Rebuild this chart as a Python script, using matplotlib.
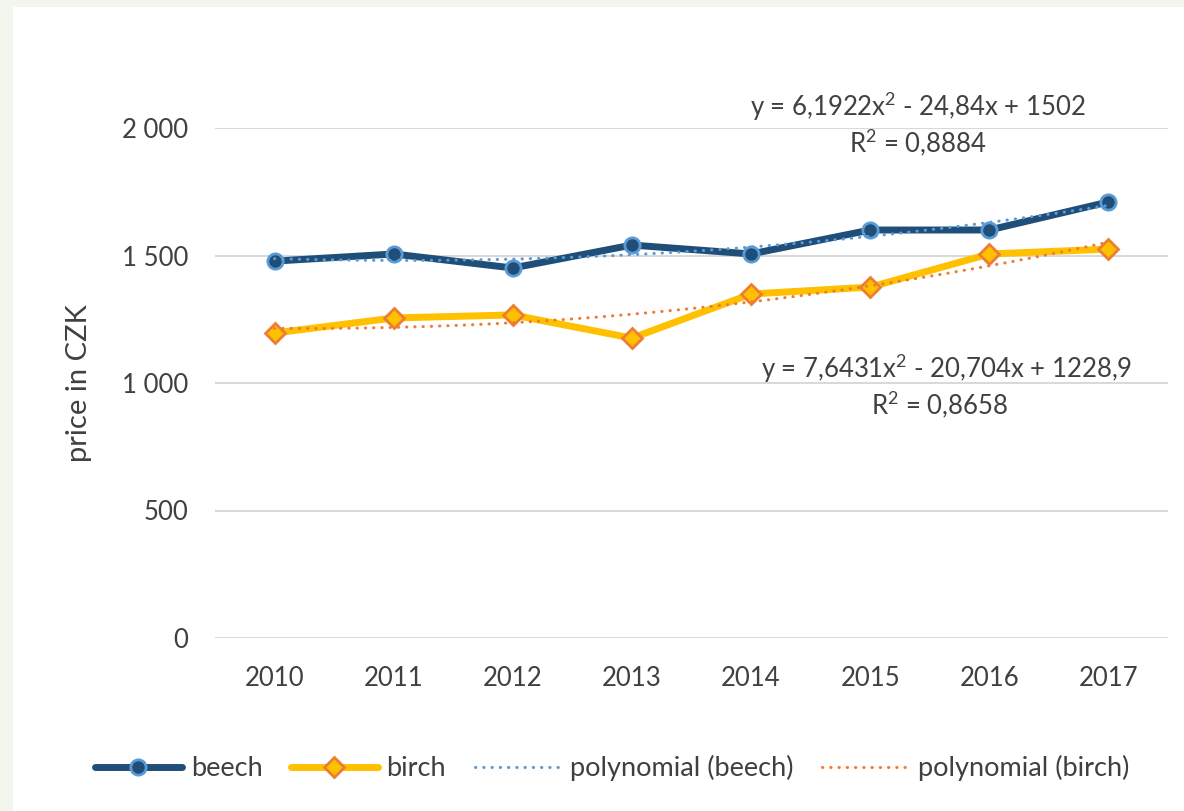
import numpy as np
import matplotlib
matplotlib.use("Agg")
import matplotlib.pyplot as plt
from matplotlib.patches import Rectangle

plt.rcParams['font.family'] = ['Lato', 'DejaVu Sans']
plt.rcParams['mathtext.fontset'] = 'custom'
plt.rcParams['mathtext.rm'] = 'Lato'

# data
years = ['2010', '2011', '2012', '2013', '2014', '2015', '2016', '2017']
beech = [1478, 1506, 1451, 1541, 1506, 1600, 1600, 1710]
birch = [1196, 1255, 1267, 1176, 1349, 1376, 1506, 1525]
y_ticks = [0, 500, 1000, 1500, 2000]
y_labels = ['0', '500', '1 000', '1 500', '2 000']
eq_beech = r'y = 6,1922x$\mathregular{^2}$ - 24,84x + 1502'
r2_beech = r'R$\mathregular{^2}$ = 0,8884'
eq_birch = r'y = 7,6431x$\mathregular{^2}$ - 20,704x + 1228,9'
r2_birch = r'R$\mathregular{^2}$ = 0,8658'

c_beech = '#1f4e79'
c_beech_edge = '#5b9bd5'
c_birch = '#ffc000'
c_birch_edge = '#ed7d31'
txt = '#404040'

fig = plt.figure(figsize=(11.84, 8.11), dpi=100, facecolor='#f3f6ec')
# white chart area with thin greenish border on left and top
bg = Rectangle((13 / 1184, 0), 1, 1 - 7 / 811, transform=fig.transFigure,
               facecolor='white', edgecolor='none', zorder=-10)
fig.add_artist(bg)

ax = fig.add_axes([215 / 1184, 1 - 638 / 811, (1168 - 215) / 1184, (638 - 128) / 811])
ax.set_zorder(1)
ax.set_facecolor('none')

x = np.arange(len(years))

# polynomial trendlines (2nd order, x = 1..n like Excel)
xs = np.linspace(0, len(years) - 1, 200)
fit_beech = np.polyfit(x + 1, beech, 2)
fit_birch = np.polyfit(x + 1, birch, 2)

ax.plot(x, beech, color=c_beech, lw=5, marker='o', markersize=11,
        markerfacecolor=c_beech, markeredgecolor=c_beech_edge, markeredgewidth=2,
        solid_capstyle='round', label='beech', zorder=3)
ax.plot(x, birch, color=c_birch, lw=5, marker='D', markersize=10,
        markerfacecolor=c_birch, markeredgecolor=c_birch_edge, markeredgewidth=2,
        solid_capstyle='round', label='birch', zorder=3)
ax.plot(xs, np.polyval(fit_beech, xs + 1), color=c_beech_edge, lw=2.2,
        linestyle=(0, (0.1, 2.6)), dash_capstyle='round', label='polynomial (beech)', zorder=4)
ax.plot(xs, np.polyval(fit_birch, xs + 1), color=c_birch_edge, lw=2.2,
        linestyle=(0, (0.1, 2.6)), dash_capstyle='round', label='polynomial (birch)', zorder=4)

ax.set_xlim(-0.5, len(years) - 0.5)
ax.set_ylim(0, 2000)
ax.set_xticks(x)
ax.set_xticklabels(years)
ax.set_yticks(y_ticks)
ax.set_yticklabels(y_labels)
ax.tick_params(axis='both', length=0, labelsize=18.5, labelcolor=txt)
ax.tick_params(axis='x', pad=20)
ax.tick_params(axis='y', pad=19)
ax.grid(axis='y', color='#d9d9d9', lw=1.5)
ax.set_axisbelow(True)
for s in ax.spines.values():
    s.set_visible(False)

ax.set_ylabel('price in CZK', fontsize=21, color=txt, labelpad=22)

ax.text(0.737, 1.041, eq_beech, transform=ax.transAxes, ha='center', va='center',
        fontsize=18.5, color=txt)
ax.text(0.737, 0.970, r2_beech, transform=ax.transAxes, ha='center', va='center',
        fontsize=18.5, color=txt)
ax.text(0.768, 0.529, eq_birch, transform=ax.transAxes, ha='center', va='center',
        fontsize=18.5, color=txt)
ax.text(0.760, 0.457, r2_birch, transform=ax.transAxes, ha='center', va='center',
        fontsize=18.5, color=txt)

leg = fig.legend(loc='center', bbox_to_anchor=(0.517, 1 - 768 / 811), ncol=4,
                 frameon=False, fontsize=19.5, handlelength=3.2, handletextpad=0.33,
                 columnspacing=1.05)
for t in leg.get_texts():
    t.set_color(txt)

fig.savefig('out.png', dpi=100, facecolor=fig.get_facecolor())
